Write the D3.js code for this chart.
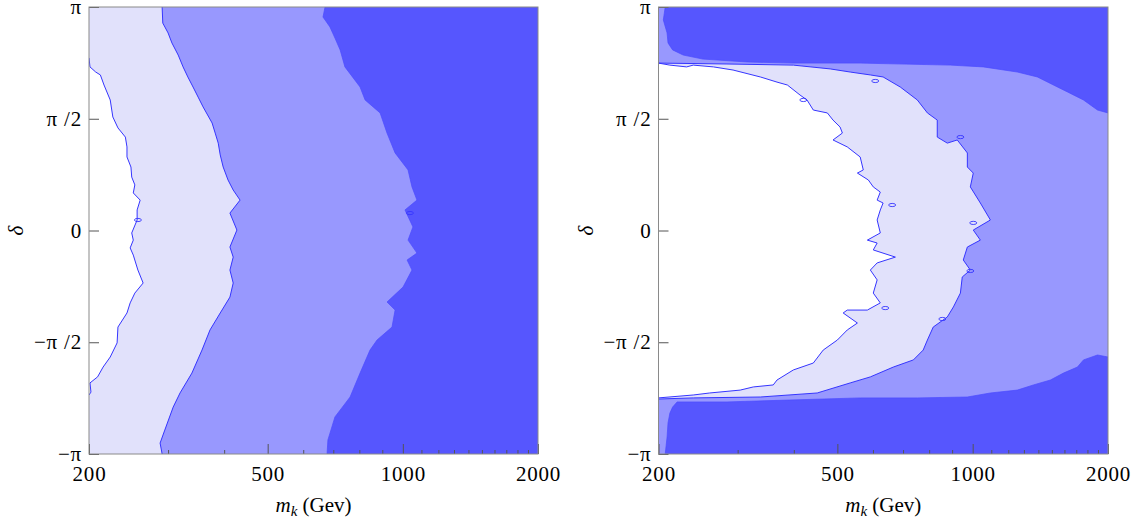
<!DOCTYPE html>
<html><head><meta charset="utf-8">
<script src="https://cdn.jsdelivr.net/npm/d3@7"></script>
<style>body{margin:0;background:#fff}svg{display:block}</style>
</head><body><svg id="c" width="1138" height="520"></svg>
<script>
// ---------- DATA (m_k in GeV, δ in units of π) ----------
const xTickMajor = [200, 500, 1000, 2000];
const xTickMinor = [300,400,600,700,800,900,1100,1200,1300,1400,1500,1600,1700,1800,1900];
const yTickValues = [-1, -0.5, 0, 0.5, 1];
const yTickLabels = ["\u2212\u03C0", "\u2212\u03C0 /2", "0", "\u03C0 /2", "\u03C0"];

// Left panel: white / light boundary
const leftA_m = [200,201,207,212,216,223,226,232,241,243,243,248,249,253,251,260,256,256,249,251,247,251,257,264,253,247,243,232,231,223,215,209,201,202,200];
const leftA_d = [0.772,0.732,0.709,0.696,0.651,0.584,0.508,0.459,0.418,0.374,0.329,0.284,0.239,0.204,0.168,0.136,0.092,0.047,-0.011,-0.043,-0.078,-0.110,-0.177,-0.235,-0.280,-0.324,-0.369,-0.432,-0.503,-0.566,-0.611,-0.655,-0.682,-0.723,-0.736];
// Left panel: light / medium boundary
const leftB_m = [291,292,300,306,316,324,332,341,350,359,376,382,388,392,398,408,419,434,412,427,412,419,412,419,412,392,372,357,339,319,308,295,288,291];
const leftB_d = [1.0,0.928,0.884,0.839,0.785,0.732,0.687,0.642,0.597,0.553,0.481,0.436,0.391,0.338,0.284,0.226,0.181,0.136,0.078,0.002,-0.074,-0.119,-0.177,-0.235,-0.298,-0.369,-0.445,-0.535,-0.638,-0.727,-0.790,-0.893,-0.951,-1.0];
// Left panel: medium / dark boundary
const leftC_m = [671,664,688,706,725,743,803,824,890,922,961,1027,1048,1075,1011,1053,1027,1075,1022,1048,1001,922,961,946,876,845,803,763,706,681,678];
const leftC_d = [1.0,0.955,0.911,0.861,0.808,0.732,0.642,0.584,0.526,0.436,0.347,0.271,0.195,0.136,0.092,0.016,-0.043,-0.101,-0.132,-0.177,-0.253,-0.320,-0.356,-0.432,-0.490,-0.535,-0.638,-0.745,-0.834,-0.937,-1.0];
const leftIsl_m = [257, 1037];
const leftIsl_d = [0.047, 0.078];

// Right panel: upper dark band boundary
const rTop_m = [207,205,209,210,215,227,251,315,399,562,892,1056,1257,1393,1544,1625,1764,1895,2000];
const rTop_d = [1.0,0.942,0.884,0.839,0.808,0.785,0.767,0.754,0.749,0.749,0.740,0.732,0.709,0.687,0.642,0.620,0.584,0.539,0.526];
// Right panel: lower dark band boundary (right to left)
const rBot_m = [2000,1895,1764,1710,1592,1489,1365,1257,1095,973,753,562,284,220,215,212,210,209,207];
const rBot_d = [-0.566,-0.557,-0.579,-0.611,-0.638,-0.669,-0.691,-0.714,-0.727,-0.745,-0.749,-0.749,-0.767,-0.767,-0.790,-0.817,-0.861,-0.924,-1.0];
// Right panel: light / medium boundary
const rLight_m = [200,284,399,482,534,592,632,690,753,793,834,834,878,924,973,973,1003,988,1040,1095,1003,1040,973,953,988,948,939,906,878,817,793,776,738,666,592,534,451,337,239,200];
const rLight_d = [0.749,0.745,0.740,0.723,0.709,0.696,0.687,0.642,0.584,0.526,0.494,0.418,0.391,0.405,0.347,0.284,0.257,0.195,0.123,0.047,0.002,-0.043,-0.074,-0.132,-0.177,-0.208,-0.280,-0.342,-0.387,-0.432,-0.490,-0.535,-0.579,-0.611,-0.655,-0.682,-0.727,-0.745,-0.749,-0.754];
// Right panel: white / light boundary
const rWhite_m = [200,212,231,239,265,293,337,367,387,413,428,442,475,489,507,513,489,526,562,571,554,586,601,623,613,632,623,613,623,583,613,601,673,613,592,613,601,623,583,526,515,554,526,500,465,442,399,367,360,325,304,260,239,200];
const rWhite_d = [0.749,0.740,0.732,0.740,0.732,0.718,0.687,0.664,0.651,0.606,0.584,0.539,0.526,0.494,0.463,0.436,0.405,0.374,0.329,0.271,0.257,0.226,0.195,0.172,0.136,0.123,0.092,0.047,-0.011,-0.043,-0.056,-0.087,-0.119,-0.145,-0.177,-0.221,-0.280,-0.324,-0.356,-0.356,-0.369,-0.414,-0.445,-0.490,-0.535,-0.593,-0.624,-0.669,-0.691,-0.700,-0.714,-0.727,-0.736,-0.749];
const rightIsl_m = [420,607,939,662,1003,988,639,856];
const rightIsl_d = [0.584,0.669,0.418,0.114,0.034,-0.181,-0.347,-0.396];

// ---------- STYLE ----------
const C_WHITE = "#ffffff", C_LIGHT = "#e1e1fb", C_MED = "#9898fe", C_DARK = "#5656fe";
const C_LINE = "#3535ff", C_SOFT = "#4c4cff";
const FONT = "'Liberation Serif','Times New Roman',serif";
const TOP = 7, BOTTOM = 454;
const panelX = [[89, 538], [658.5, 1108]];

const svg = d3.select("#c");

function makePanel(i) {
  const [xa, xb] = panelX[i];
  const xs = d3.scaleLog().domain([200, 2000]).range([xa, xb]);
  const ys = d3.scaleLinear().domain([-1, 1]).range([BOTTOM, TOP]);
  const g = svg.append("g");
  g.append("clipPath").attr("id", "clip" + i).append("rect")
    .attr("x", xa).attr("y", TOP).attr("width", xb - xa).attr("height", BOTTOM - TOP);
  const plot = g.append("g").attr("clip-path", `url(#clip${i})`);
  const line = d3.line().x(d => xs(d[0])).y(d => ys(d[1]));
  return {xs, ys, g, plot, line, xa, xb};
}

function fillPoly(p, pts, color) {
  p.plot.append("path").attr("d", p.line(pts) + "Z").attr("fill", color).attr("stroke", "none");
}
function strokeLine(p, pts, color, w) {
  p.plot.append("path").attr("d", p.line(pts)).attr("fill", "none")
    .attr("stroke", color).attr("stroke-width", w).attr("stroke-linejoin", "round");
}
function islands(p, ms, ds) {
  p.plot.selectAll(null).data(d3.zip(ms, ds)).enter().append("ellipse")
    .attr("cx", d => p.xs(d[0])).attr("cy", d => p.ys(d[1]))
    .attr("rx", 3.5).attr("ry", 1.6)
    .attr("fill", "none").attr("stroke", C_LINE).attr("stroke-width", 0.9);
}

function decorate(p) {
  const {xs, ys, g, xa, xb} = p;
  const major = g.append("g").attr("transform", `translate(0,${BOTTOM})`)
    .call(d3.axisBottom(xs).tickValues(xTickMajor).tickFormat(d3.format("d"))
      .tickSizeInner(-10).tickSizeOuter(0).tickPadding(12));
  const minor = g.append("g").attr("transform", `translate(0,${BOTTOM})`)
    .call(d3.axisBottom(xs).tickValues(xTickMinor).tickFormat("")
      .tickSizeInner(-4).tickSizeOuter(0));
  const yax = g.append("g").attr("transform", `translate(${xa},0)`)
    .call(d3.axisLeft(ys).tickValues(yTickValues).tickFormat((d, i) => yTickLabels[i])
      .tickSizeInner(-10).tickSizeOuter(0).tickPadding(7));
  [major, minor, yax].forEach(a => {
    a.select(".domain").remove();
    a.selectAll("line").attr("stroke", "#555").attr("stroke-width", 1);
    a.selectAll("text").attr("font-family", FONT).attr("font-size", 21)
      .attr("fill", "#000").attr("letter-spacing", "0.8px");
  });
  g.append("rect").attr("x", xa).attr("y", TOP).attr("width", xb - xa).attr("height", BOTTOM - TOP)
    .attr("fill", "none").attr("stroke", "#8a8a8a").attr("stroke-width", 1);
  // axis titles
  const xt = g.append("text").attr("x", (xa + xb) / 2).attr("y", 512)
    .attr("text-anchor", "middle").attr("font-family", FONT).attr("font-size", 21).attr("fill", "#000");
  xt.append("tspan").attr("font-style", "italic").text("m");
  xt.append("tspan").attr("font-style", "italic").attr("font-size", 15).attr("dy", 4).text("k");
  xt.append("tspan").attr("dy", -4).text(" (Gev)");
  g.append("text").attr("transform", `translate(${xa - 66},${ys(0)}) rotate(-90)`)
    .attr("text-anchor", "middle").attr("font-family", FONT).attr("font-size", 21)
    .attr("font-style", "italic").attr("fill", "#000").text("\u03B4");
}

// ---------- LEFT PANEL ----------
const L = makePanel(0);
L.plot.append("rect").attr("x", L.xa).attr("y", TOP).attr("width", L.xb - L.xa).attr("height", BOTTOM - TOP).attr("fill", C_DARK);
const lA = d3.zip(leftA_m, leftA_d), lB = d3.zip(leftB_m, leftB_d), lC = d3.zip(leftC_m, leftC_d);
fillPoly(L, [[200, 1], ...lC, [200, -1]], C_MED);
fillPoly(L, [[200, 1], ...lB, [200, -1]], C_LIGHT);
fillPoly(L, lA, C_WHITE);
strokeLine(L, lC, C_SOFT, 0.7);
strokeLine(L, lB, C_LINE, 1);
strokeLine(L, lA, C_LINE, 1);
islands(L, leftIsl_m, leftIsl_d);
decorate(L);

// ---------- RIGHT PANEL ----------
const R = makePanel(1);
R.plot.append("rect").attr("x", R.xa).attr("y", TOP).attr("width", R.xb - R.xa).attr("height", BOTTOM - TOP).attr("fill", C_DARK);
const rT = d3.zip(rTop_m, rTop_d), rB = d3.zip(rBot_m, rBot_d);
const rL = d3.zip(rLight_m, rLight_d), rW = d3.zip(rWhite_m, rWhite_d);
fillPoly(R, [[200, -1], [200, 1], ...rT, ...rB], C_MED);
fillPoly(R, rL, C_LIGHT);
fillPoly(R, rW, C_WHITE);
strokeLine(R, rT, C_SOFT, 0.7);
strokeLine(R, rB, C_SOFT, 0.7);
strokeLine(R, rL, C_LINE, 1);
strokeLine(R, rW, C_LINE, 1);
islands(R, rightIsl_m, rightIsl_d);
decorate(R);
</script>
</body></html>
